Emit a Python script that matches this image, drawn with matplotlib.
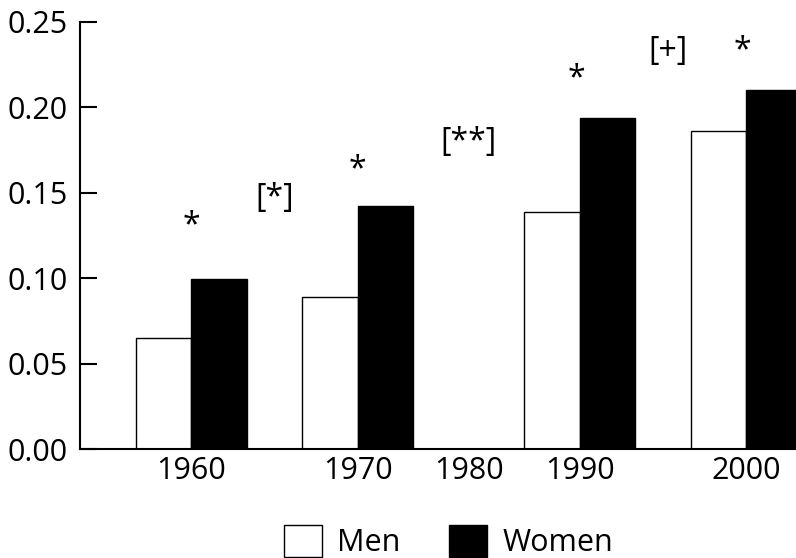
import matplotlib
matplotlib.use("Agg")
import matplotlib.pyplot as plt
from matplotlib.patches import Patch

plt.rcParams['font.family'] = ['Open Sans', 'DejaVu Sans']

# data
years = ['1960', '1970', '1980', '1990', '2000']
group_pos = [0, 3, 5, 7, 10]          # uneven spacing as in the original
men = [0.065, 0.089, 0.0, 0.139, 0.186]
women = [0.0995, 0.142, 0.0, 0.1935, 0.210]

# significance marks
sig_labels = ['*', '[*]', '*', '[**]', '*', '[+]', '*']
sig_x = [0, 1.5, 3, 5, 6.95, 8.6, 9.93]
sig_y = [0.1257, 0.1415, 0.1585, 0.1743, 0.2117, 0.228, 0.228]

fig = plt.figure(figsize=(7.96, 5.58), dpi=100)
ax = fig.add_axes([0.1005, 0.1953, 0.8995, 0.7653])

bw = 1.0
ax.bar([p - bw / 2 for p in group_pos], men, width=bw, color='white',
       edgecolor='black', linewidth=1.0, label='Men')
ax.bar([p + bw / 2 for p in group_pos], women, width=bw, color='black',
       edgecolor='black', linewidth=1.0, label='Women')

for lab, x, y in zip(sig_labels, sig_x, sig_y):
    ax.text(x, y, lab, ha='center', va='baseline', fontsize=23, clip_on=False)

ax.set_xlim(-2.0, 10.9)
ax.set_ylim(0, 0.25)
ax.set_yticks([0, 0.05, 0.10, 0.15, 0.20, 0.25])
ax.set_yticklabels(['0.00', '0.05', '0.10', '0.15', '0.20', '0.25'])
ax.set_xticks(group_pos)
ax.set_xticklabels(years)

ax.tick_params(axis='y', direction='in', length=12, width=1.5, pad=9, labelsize=22)
ax.tick_params(axis='x', length=0, pad=5, labelsize=22)

for s in ['top', 'right']:
    ax.spines[s].set_visible(False)
for s in ['left', 'bottom']:
    ax.spines[s].set_linewidth(1.5)

handles = [Patch(facecolor='white', edgecolor='black', linewidth=1.0, label='Men'),
           Patch(facecolor='black', edgecolor='black', linewidth=1.0, label='Women')]
fig.legend(handles=handles, loc='center', bbox_to_anchor=(0.5635, 0.03), ncol=2,
           frameon=False, fontsize=22, handlelength=1.25, handleheight=1.25,
           handletextpad=0.5, columnspacing=1.6)

fig.savefig('out.png', dpi=100, facecolor='white')
